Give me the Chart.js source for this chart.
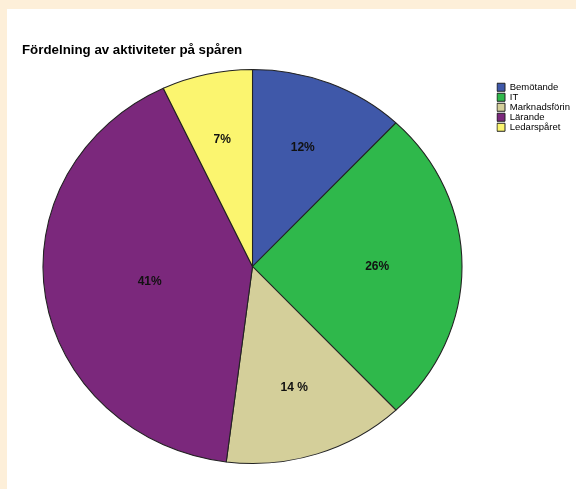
<!DOCTYPE html>
<html>
<head>
<meta charset="utf-8">
<script src="https://cdn.jsdelivr.net/npm/chart.js@4/dist/chart.umd.min.js"></script>
<style>
  html, body { margin: 0; padding: 0; background: #fdefd9; width: 576px; height: 489px; overflow: hidden; }
  #panel { position: absolute; left: 7px; top: 9px; width: 569px; height: 480px; background: #fff; }
  canvas { display: block; }
</style>
</head>
<body>
<div id="panel"><canvas id="pie" width="569" height="480"></canvas></div>
<script>
// data (clockwise from 12 o'clock)
const categories = ['Bemötande', 'IT', 'Marknadsförin', 'Lärande', 'Ledarspåret'];
const shares = [12, 26, 14, 41, 7];
const shareLabels = ['12%', '26%', '14 %', '41%', '7%'];
const sliceColors = ['#3f58a9', '#2fb84b', '#d4cf9a', '#7b287c', '#fbf56f'];

const STRETCH_X = 209.5 / 197; // reference pie is a bit wider than tall

Chart.defaults.font.family = '"Liberation Sans", Arial, sans-serif';

// squash the circle into the slightly wide ellipse of the original, then put the % labels on
const ellipsePie = {
  id: 'ellipsePie',
  afterLayout(chart) {
    // legend sits top right, outside the pie
    const lg = chart.legend;
    lg.left = 489.5;
    lg.right = chart.width;
    lg.width = lg.right - lg.left;
    lg.top = 73;
    lg.bottom = chart.height;
    lg.height = lg.bottom - lg.top;
  },
  beforeDatasetsDraw(chart) {
    const arc = chart.getDatasetMeta(0).data[0];
    const ctx = chart.ctx;
    ctx.save();
    ctx.translate(arc.x, arc.y);
    ctx.scale(STRETCH_X, 1);
    ctx.translate(-arc.x, -arc.y);
  },
  afterDatasetsDraw(chart) {
    const ctx = chart.ctx;
    ctx.restore();
    ctx.save();
    ctx.font = 'bold 12px "Liberation Sans", Arial, sans-serif';
    ctx.fillStyle = '#111';
    ctx.textAlign = 'center';
    ctx.textBaseline = 'middle';
    chart.getDatasetMeta(0).data.forEach((arc, i) => {
      const half = (arc.endAngle - arc.startAngle) / 2;
      const mid = arc.startAngle + half;
      // sector centroid
      const r = arc.outerRadius * 2 * Math.sin(half) / (3 * half);
      ctx.fillText(shareLabels[i], arc.x + Math.cos(mid) * r * STRETCH_X, arc.y + Math.sin(mid) * r);
    });
    ctx.restore();
  }
};

new Chart(document.getElementById('pie'), {
  type: 'pie',
  data: {
    labels: categories,
    datasets: [{
      data: shares,
      backgroundColor: sliceColors,
      borderColor: '#222',
      borderWidth: 1
    }]
  },
  options: {
    responsive: false,
    animation: false,
    events: [],
    layout: { padding: { left: 15, top: 0, right: 93, bottom: 25 } },
    plugins: {
      title: {
        display: true,
        text: 'Fördelning av aktiviteter på spåren',
        align: 'start',
        color: '#000',
        font: { size: 13.3, weight: 'bold' },
        padding: { top: 33, bottom: 11 }
      },
      legend: {
        position: 'chartArea',
        align: 'start',
        labels: {
          color: '#000',
          font: { size: 9.5 },
          boxWidth: 8,
          boxHeight: 8,
          padding: 0.5
        }
      },
      tooltip: { enabled: false }
    }
  },
  plugins: [ellipsePie]
});
</script>
</body>
</html>
